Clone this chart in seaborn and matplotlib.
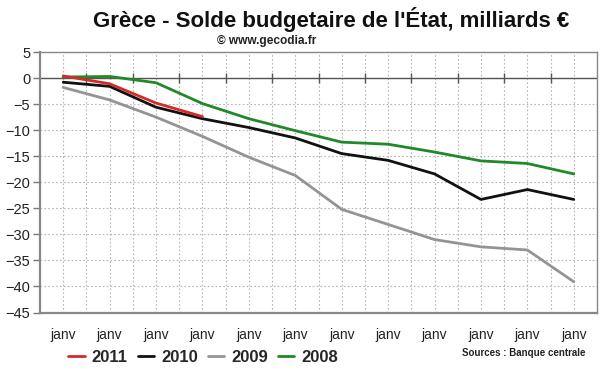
import numpy as np
import pandas as pd
import matplotlib
matplotlib.use("Agg")
import matplotlib.pyplot as plt
import seaborn as sns
from matplotlib.lines import Line2D

# ---- data ----
months = ["janv"] * 12
y2011 = [0.4, -1.1, -4.8, -7.4]
y2010 = [-0.8, -1.6, -5.6, -7.8, -9.5, -11.5, -14.5, -15.8, -18.4, -23.3, -21.4, -23.3]
y2009 = [-1.8, -4.2, -7.5, -11.2, -15.2, -18.7, -25.2, -28.1, -31.0, -32.4, -33.0, -39.1]
y2008 = [0.2, 0.3, -0.9, -4.9, -7.8, -10.1, -12.3, -12.7, -14.2, -15.9, -16.4, -18.4]
years = ["2011", "2010", "2009", "2008"]
colors = {"2011": "#d42a2a", "2010": "#111111", "2009": "#949494", "2008": "#22892a"}

series = {"2011": y2011, "2010": y2010, "2009": y2009, "2008": y2008}
rows = []
for yr, vals in series.items():
    for i, v in enumerate(vals):
        rows.append({"idx": i, "val": v, "year": yr})
df = pd.DataFrame(rows)

sns.set_style("white")
plt.rcParams["font.family"] = ["Liberation Sans", "DejaVu Sans"]

fig = plt.figure(figsize=(6, 3.72), dpi=100)
ax = fig.add_axes([40 / 600, 1 - 312.5 / 372, 557 / 600, 260.5 / 372])

# grid
for xv in np.arange(0, 11.51, 0.5):
    ax.axvline(xv, color="#b5b5b5", lw=0.8, ls=(0, (1.5, 2)), zorder=0)
for yv in range(-40, 6, 5):
    ax.axhline(yv, color="#b5b5b5", lw=0.8, ls=(0, (1.5, 2)), zorder=0)

ax.axhline(0, color="#555555", lw=1.0, zorder=1)
ax.plot(np.arange(0.5, 11, 1.0), np.zeros(11), ls="none", marker="|",
        ms=7, mew=1.0, color="#555555", zorder=1)

sns.lineplot(data=df, x="idx", y="val", hue="year",
             hue_order=["2008", "2009", "2010", "2011"],
             palette=colors, lw=2.0, sort=False, estimator=None,
             legend=False, ax=ax, zorder=3)

ax.set_xlim(-0.5, 11.5)
ax.set_ylim(-45, 5)
ax.set_yticks(range(-45, 6, 5))
ax.set_xticks(range(12))
ax.set_xticklabels(months)
ax.set_xlabel("")
ax.set_ylabel("")
ax.tick_params(axis="y", length=5, width=1, color="#777777", labelsize=10.5,
               labelcolor="#222222", pad=2, left=True)
ax.tick_params(axis="x", length=0, labelsize=10, labelcolor="#222222", pad=11)

for side in ["left", "bottom"]:
    ax.spines[side].set_color("#888888")
    ax.spines[side].set_linewidth(1.6)
for side in ["right", "top"]:
    ax.spines[side].set_visible(True)
    ax.spines[side].set_color("#888888")
    ax.spines[side].set_linewidth(1.0)

fig.text(331 / 600, 1 - 19 / 372, "Grèce - Solde budgetaire de l'État, milliards €",
         ha="center", va="center", fontsize=16, fontweight="bold", color="#111111")
fig.text(267 / 600, 1 - 41 / 372, "© www.gecodia.fr",
         ha="center", va="center", fontsize=8.6, fontweight="bold", color="#222222")
fig.text(585 / 600, 1 - 353 / 372, "Sources : Banque centrale",
         ha="right", va="center", fontsize=7, fontweight="bold", color="#222222")

handles = [Line2D([0], [0], color=colors[y], lw=2) for y in years]
fig.legend(handles, years, loc="center", bbox_to_anchor=(203 / 600, 1 - 357 / 372),
           ncol=4, frameon=False, prop={"weight": "bold", "size": 12},
           handlelength=1.0, handletextpad=0.4, columnspacing=0.6)

fig.savefig("out.png", dpi=100, facecolor="white")
